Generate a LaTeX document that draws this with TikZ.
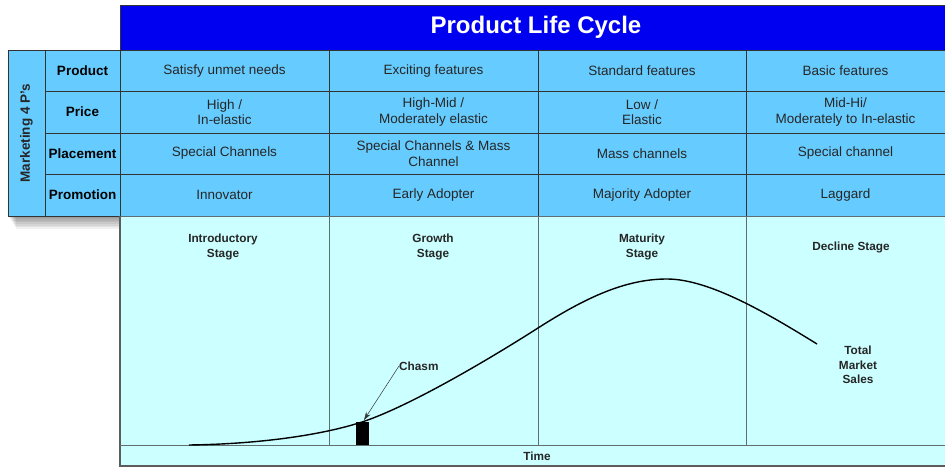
\documentclass[tikz,border=0pt]{standalone}
\usepackage{fontspec}
\setmainfont{Liberation Sans}
\usepackage{tikz}
\usetikzlibrary{arrows.meta}

\definecolor{titleblue}{HTML}{0000F0}
\definecolor{cellblue}{HTML}{66CCFF}
\definecolor{chartcyan}{HTML}{CCFFFF}
\definecolor{edgegray}{HTML}{333333}
\definecolor{linegray}{HTML}{5F6F6F}

\tikzset{
  cell/.style={draw=edgegray, fill=cellblue, line width=0.9pt, align=center, inner sep=0pt,
    font=\fontsize{13.5}{15.5}\selectfont},
  celltext/.style={align=center, font=\fontsize{13.5}{15.5}\selectfont, text=black!85},
  rowhead/.style={cell, minimum width=75, font=\fontsize{13.5}{15.5}\selectfont\bfseries},
  stagelabel/.style={align=center, inner sep=0pt, font=\fontsize{11.8}{14.5}\selectfont\bfseries, text=black!85},
}

\begin{document}
\begin{tikzpicture}[x=1pt, y=-1pt]
\useasboundingbox (0,0) rectangle (945,468);
%%%%% Shadow %%%%%
\foreach \s in {1,...,8}{
\fill[black, opacity=0.06] (8+\s,50+\s) rectangle (120,216+1.6*\s);
}
%%%%% Title %%%%%
\fill[titleblue] (120,5) rectangle (945,51);
\draw[edgegray, line width=0.9pt] (945,5)--(120,5)--(120,51);
\node[text=white, font=\fontsize{24}{28}\selectfont\bfseries] (title) at (536,27) {Product Life Cycle};
%%%%% 4 P's %%%%%
\node[cell, minimum width=37, minimum height=166] (mkt) at (26.5,133) {};
\node[rotate=90, font=\fontsize{13.5}{15.5}\selectfont\bfseries, text=black!85] (mktlabel) at (mkt.center) {Marketing 4 P's};
\node[rowhead, minimum height=41] (product) at (82.5,71) {Product};
\node[rowhead, minimum height=42] (price) at (82.5,112) {Price};
\node[rowhead, minimum height=41] (placement) at (82.5,153.5) {Placement};
\node[rowhead, minimum height=42] (promotion) at (82.5,195) {Promotion};
%%%%% Cells %%%%%
\foreach \x/\w/\n in {224.5/209/1, 433.5/209/2, 642/208/3, 845.5/199/4}{
\node[cell, minimum width=\w, minimum height=41] (prod\n) at (\x,71) {};
\node[cell, minimum width=\w, minimum height=42] (pric\n) at (\x,112) {};
\node[cell, minimum width=\w, minimum height=41] (plac\n) at (\x,153.5) {};
\node[cell, minimum width=\w, minimum height=42] (prom\n) at (\x,195) {};
}
\foreach \n/\t in {1/Satisfy unmet needs, 2/Exciting features, 3/Standard features, 4/Basic features}{
\node[celltext] at (prod\n) {\t};
}
\node[celltext] at (pric1) {High /\\In-elastic};
\node[celltext] at (pric2) {High-Mid /\\Moderately elastic};
\node[celltext] at (pric3) {Low /\\Elastic};
\node[celltext] at (pric4) {Mid-Hi/\\Moderately to In-elastic};
\node[celltext] at (plac1) {Special Channels};
\node[celltext] at (plac2) {Special Channels \& Mass\\Channel};
\node[celltext] at (plac3) {Mass channels};
\node[celltext] at (plac4) {Special channel};
\foreach \n/\t in {1/Innovator, 2/Early Adopter, 3/Majority Adopter, 4/Laggard}{
\node[celltext] at (prom\n) {\t};
}
%%%%% Chart %%%%%
\fill[chartcyan] (120,216) rectangle (945,466);
\draw[linegray, line width=0.9pt] (120,216)--(945,216);
\draw[edgegray!80, line width=1.6pt] (120,216)--(120,466)--(945,466);
\draw[linegray, line width=0.9pt] (120,445)--(945,445);
\foreach \x in {329,538,746}{
\draw[linegray, line width=0.9pt] (\x,216)--(\x,445);
}
\node[stagelabel] (intro) at (223,247) {Introductory\\Stage};
\node[stagelabel] (growth) at (433,247) {Growth\\Stage};
\node[stagelabel] (maturity) at (642,247) {Maturity\\Stage};
\node[stagelabel] (decline) at (851,247) {Decline Stage};
\node[stagelabel] (sales) at (858,365) {Total\\Market\\Sales};
\node[stagelabel] (time) at (537,456) {Time};
%%%%% Curve %%%%%
\fill[black] (356,445) rectangle (369,422);
\draw[black, line width=1.4pt] (189,445) .. controls (260,444) and (322,435) .. (362,422)
  .. controls (408,407) and (488,360) .. (538,328)
  .. controls (585,298) and (625,279) .. (667,279)
  .. controls (710,279) and (770,315) .. (817,344);
\node[stagelabel, anchor=west] (chasm) at (399,366) {Chasm};
\coordinate (chasmtip) at (364,420);
\draw[-{Stealth[length=8pt, width=5pt]}, black!80, line width=0.5pt] (chasm.west) -- (chasmtip);
\end{tikzpicture}
\end{document}
